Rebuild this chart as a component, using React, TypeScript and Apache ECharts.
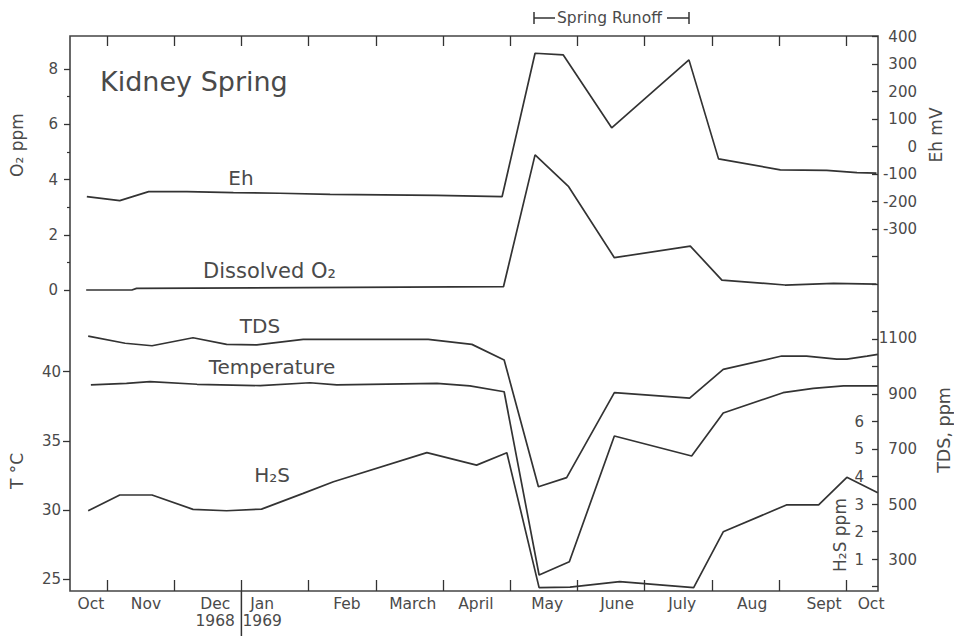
import React, { useEffect, useRef } from "react";
import * as echarts from "echarts";

// ---- x axis (months since 1 Oct 1968) ----
const monthLabels = ["Oct", "Nov", "Dec\n1968", "Jan\n1969", "Feb", "March", "April", "May", "June", "July", "Aug", "Sept", "Oct"];
const monthLabelPos = [0.76, 1.58, 2.61, 3.31, 4.57, 5.55, 6.49, 7.55, 8.59, 9.56, 10.6, 11.67, 12.37];
const monthTicks = [1, 2, 3, 4, 5, 6, 7, 8, 9, 10, 11, 12];

// ---- tick labels ----
const o2Ticks = [0, 2, 4, 6, 8];
const o2Minor = [1, 3, 5, 7];
const tempTicks = [25, 30, 35, 40];
const ehLabels = [400, 300, 200, 100, 0, -100, -200, -300];
const ehTickMarks = [400, 300, 200, 100, 0, -100, -200, -300, -400, -500, -600, -700, -800, -900, -1000, -1100, -1200, -1300, -1400, -1500, -1600];
const tdsLabels = [1100, 900, 700, 500, 300];
const h2sLabels = [1, 2, 3, 4, 5, 6];

// ---- series ----
const ehMonth = [0.7, 1.19, 1.62, 2.19, 2.88, 3.57, 4.32, 5.11, 5.91, 6.88, 7.37, 7.79, 8.51, 9.66, 10.1, 11.02, 11.71, 12.16, 12.45];
const ehMv = [-182, -197, -164, -164, -168, -170, -174, -176, -178, -182, 339, 333, 68, 315, -45, -85, -87, -95, -97];

const o2Month = [0.69, 1.37, 1.44, 6.9, 7.37, 7.87, 8.55, 9.68, 10.15, 11.09, 11.81, 12.45];
const o2Ppm = [0, 0, 0.06, 0.12, 4.89, 3.74, 1.17, 1.59, 0.36, 0.18, 0.24, 0.21];

const tdsMonth = [0.72, 1.27, 1.67, 2.28, 2.78, 3.23, 3.92, 5.11, 5.78, 6.43, 6.91, 7.42, 7.84, 8.55, 9.67, 10.17, 11.04, 11.41, 11.86, 12.01, 12.31, 12.47];
const tdsPpm = [1107, 1081, 1072, 1101, 1077, 1075, 1095, 1095, 1095, 1077, 1021, 564, 597, 903, 883, 987, 1035, 1035, 1024, 1024, 1035, 1041];

const tempMonth = [0.76, 1.29, 1.64, 2.34, 3.28, 4.02, 4.42, 5.91, 6.4, 6.91, 7.43, 7.88, 8.55, 9.7, 10.17, 11.06, 11.51, 11.96, 12.47];
const tempC = [39.04, 39.16, 39.28, 39.09, 38.99, 39.2, 39.04, 39.16, 38.97, 38.55, 25.29, 26.25, 35.35, 33.9, 37.01, 38.48, 38.8, 38.97, 38.97];

const h2sMonth = [0.72, 1.19, 1.67, 2.28, 2.78, 3.3, 3.92, 4.37, 5.76, 6.5, 6.95, 7.43, 7.89, 8.63, 9.73, 10.17, 11.11, 11.59, 12.01, 12.47];
const h2sPpm = [2.78, 3.35, 3.35, 2.83, 2.78, 2.84, 3.41, 3.83, 4.88, 4.43, 4.88, 0, 0.02, 0.22, 0, 2.02, 2.99, 2.99, 3.99, 3.43];

// ---- layout ----
const W = 954;
const H = 636;
const GL = 70;
const GR = 878;
const GT = 36;
const GB = 591;
const FONT = '"DejaVu Sans", "Liberation Sans", Arial, sans-serif';
const INK = "#333";
const TXT = "#4a4a4a";

function vRange(v1: number, p1: number, v2: number, p2: number) {
  const k = (v2 - v1) / (p2 - p1);
  return { max: v1 + (GT - p1) * k, min: v1 + (GB - p1) * k };
}
function hRange(v1: number, p1: number, v2: number, p2: number) {
  const k = (v2 - v1) / (p2 - p1);
  return { min: v1 + (GL - p1) * k, max: v1 + (GR - p1) * k };
}

const xR = hRange(1, 107, 12, 846.2);
const o2R = vRange(0, 290, 8, 69);
const tR = vRange(25, 579, 40, 371.7);
const ehR = vRange(-300, 229, 300, 64);
const tdsR = vRange(300, 560, 1100, 338);
const h2sR = vRange(1, 560, 6, 421.7);

const zip = (xs: number[], ys: number[]) => xs.map((x, i) => [x, ys[i]]);

function lineSeries(name: string, yAxisIndex: number, data: number[][]) {
  return {
    name,
    type: "line",
    yAxisIndex,
    data,
    symbol: "none",
    lineStyle: { color: INK, width: 1.7 },
    silent: true,
  };
}

function txt(text: string, x: number, y: number, size: number, align = "center", rotation = 0) {
  return {
    type: "text",
    x,
    y,
    rotation,
    z: 10,
    style: { text, fill: TXT, font: `${size}px ${FONT}`, align, verticalAlign: "middle" },
  };
}
function seg(x1: number, y1: number, x2: number, y2: number) {
  return { type: "line", z: 10, shape: { x1, y1, x2, y2 }, style: { stroke: INK, lineWidth: 1.5 } };
}

export default function App() {
  const ref = useRef<HTMLDivElement>(null);
  useEffect(() => {
    if (!ref.current) return;
    const chart = echarts.init(ref.current, null, { renderer: "svg" });
    const yBase = (r: any, position: string) => ({
      type: "value",
      position,
      min: r.min,
      max: r.max,
      splitLine: { show: false },
      axisLine: { show: false, onZero: false },
    });
    const plain = (v: number) => String(v);
    const lab = { color: TXT, fontSize: 15, fontFamily: FONT, formatter: plain };
    const option: any = {
      animation: false,
      backgroundColor: "#fff",
      textStyle: { fontFamily: FONT },
      grid: {
        left: GL,
        right: W - GR,
        top: GT,
        bottom: H - GB,
        show: true,
        borderColor: "#444",
        borderWidth: 1.6,
        backgroundColor: "transparent",
      },
      xAxis: [
        {
          type: "value",
          position: "bottom",
          min: xR.min,
          max: xR.max,
          splitLine: { show: false },
          axisLine: { show: false, onZero: false },
          axisTick: { show: true, inside: true, length: 11, customValues: monthTicks, lineStyle: { color: INK, width: 1.3 } },
          axisLabel: {
            show: true,
            customValues: monthLabelPos,
            margin: 4,
            color: TXT,
            fontSize: 15.5,
            lineHeight: 17,
            fontFamily: FONT,
            formatter: (v: number) => {
              let best = 0;
              for (let i = 1; i < monthLabelPos.length; i++) {
                if (Math.abs(monthLabelPos[i] - v) < Math.abs(monthLabelPos[best] - v)) best = i;
              }
              return monthLabels[best];
            },
          },
        },
        {
          type: "value",
          position: "top",
          min: xR.min,
          max: xR.max,
          splitLine: { show: false },
          axisLine: { show: false, onZero: false },
          axisTick: { show: true, inside: true, length: 10, customValues: monthTicks, lineStyle: { color: INK, width: 1.3 } },
          axisLabel: { show: false },
        },
      ],
      yAxis: [
        {
          ...yBase(o2R, "left"),
          axisTick: { show: true, length: 6, customValues: o2Ticks, lineStyle: { color: INK, width: 1.3 } },
          axisLabel: { ...lab, customValues: o2Ticks, margin: 12, align: "right" },
        },
        {
          ...yBase(tR, "left"),
          axisTick: { show: true, length: 7, customValues: tempTicks, lineStyle: { color: INK, width: 1.3 } },
          axisLabel: { ...lab, customValues: tempTicks, margin: 9, align: "right" },
        },
        {
          ...yBase(ehR, "right"),
          axisTick: { show: true, inside: true, length: 6, customValues: ehTickMarks, lineStyle: { color: INK, width: 1.3 } },
          axisLabel: { ...lab, customValues: ehLabels, margin: 39, align: "right" },
        },
        {
          ...yBase(tdsR, "right"),
          axisTick: { show: false },
          axisLabel: { ...lab, customValues: tdsLabels, margin: 39, align: "right" },
        },
        {
          ...yBase(h2sR, "right"),
          axisTick: { show: false },
          axisLabel: { ...lab, customValues: h2sLabels, inside: true, margin: 14, align: "right" },
        },
        {
          ...yBase(o2R, "left"),
          axisTick: { show: true, length: 3, customValues: o2Minor, lineStyle: { color: INK, width: 1.2 } },
          axisLabel: { show: false },
        },
      ],
      series: [
        lineSeries("Eh", 2, zip(ehMonth, ehMv)),
        lineSeries("Dissolved O2", 0, zip(o2Month, o2Ppm)),
        lineSeries("TDS", 3, zip(tdsMonth, tdsPpm)),
        lineSeries("Temperature", 1, zip(tempMonth, tempC)),
        lineSeries("H2S", 4, zip(h2sMonth, h2sPpm)),
      ],
    };
    chart.setOption(option);

    const sepX = chart.convertToPixel({ xAxisIndex: 0 }, 3) as number;
    const graphic = [
      txt("Kidney Spring", 100, 81, 27, "left"),
      txt("Eh", 241, 178, 20),
      txt("Dissolved O₂", 203, 271, 21, "left"),
      txt("TDS", 260, 326, 20),
      txt("Temperature", 272, 367, 20),
      txt("H₂S", 272, 475, 20),
      txt("O₂ ppm", 17, 145, 17, "center", Math.PI / 2),
      txt("T °C", 17, 471, 17, "center", Math.PI / 2),
      txt("Eh mV", 936, 135, 17, "center", Math.PI / 2),
      txt("TDS, ppm", 944, 430, 17.5, "center", Math.PI / 2),
      txt("H₂S ppm", 840, 535, 17, "center", Math.PI / 2),
      txt("Spring Runoff", 557, 18, 15.5, "left"),
      seg(534, 18, 555, 18),
      seg(534, 12, 534, 24),
      seg(667, 18, 689, 18),
      seg(689, 12, 689, 24),
      seg(sepX, GB, sepX, H),
    ];
    chart.setOption({ graphic });
    return () => chart.dispose();
  }, []);
  return <div ref={ref} style={{ position: "fixed", left: 0, top: 0, width: W, height: H, background: "#fff" }} />;
}
